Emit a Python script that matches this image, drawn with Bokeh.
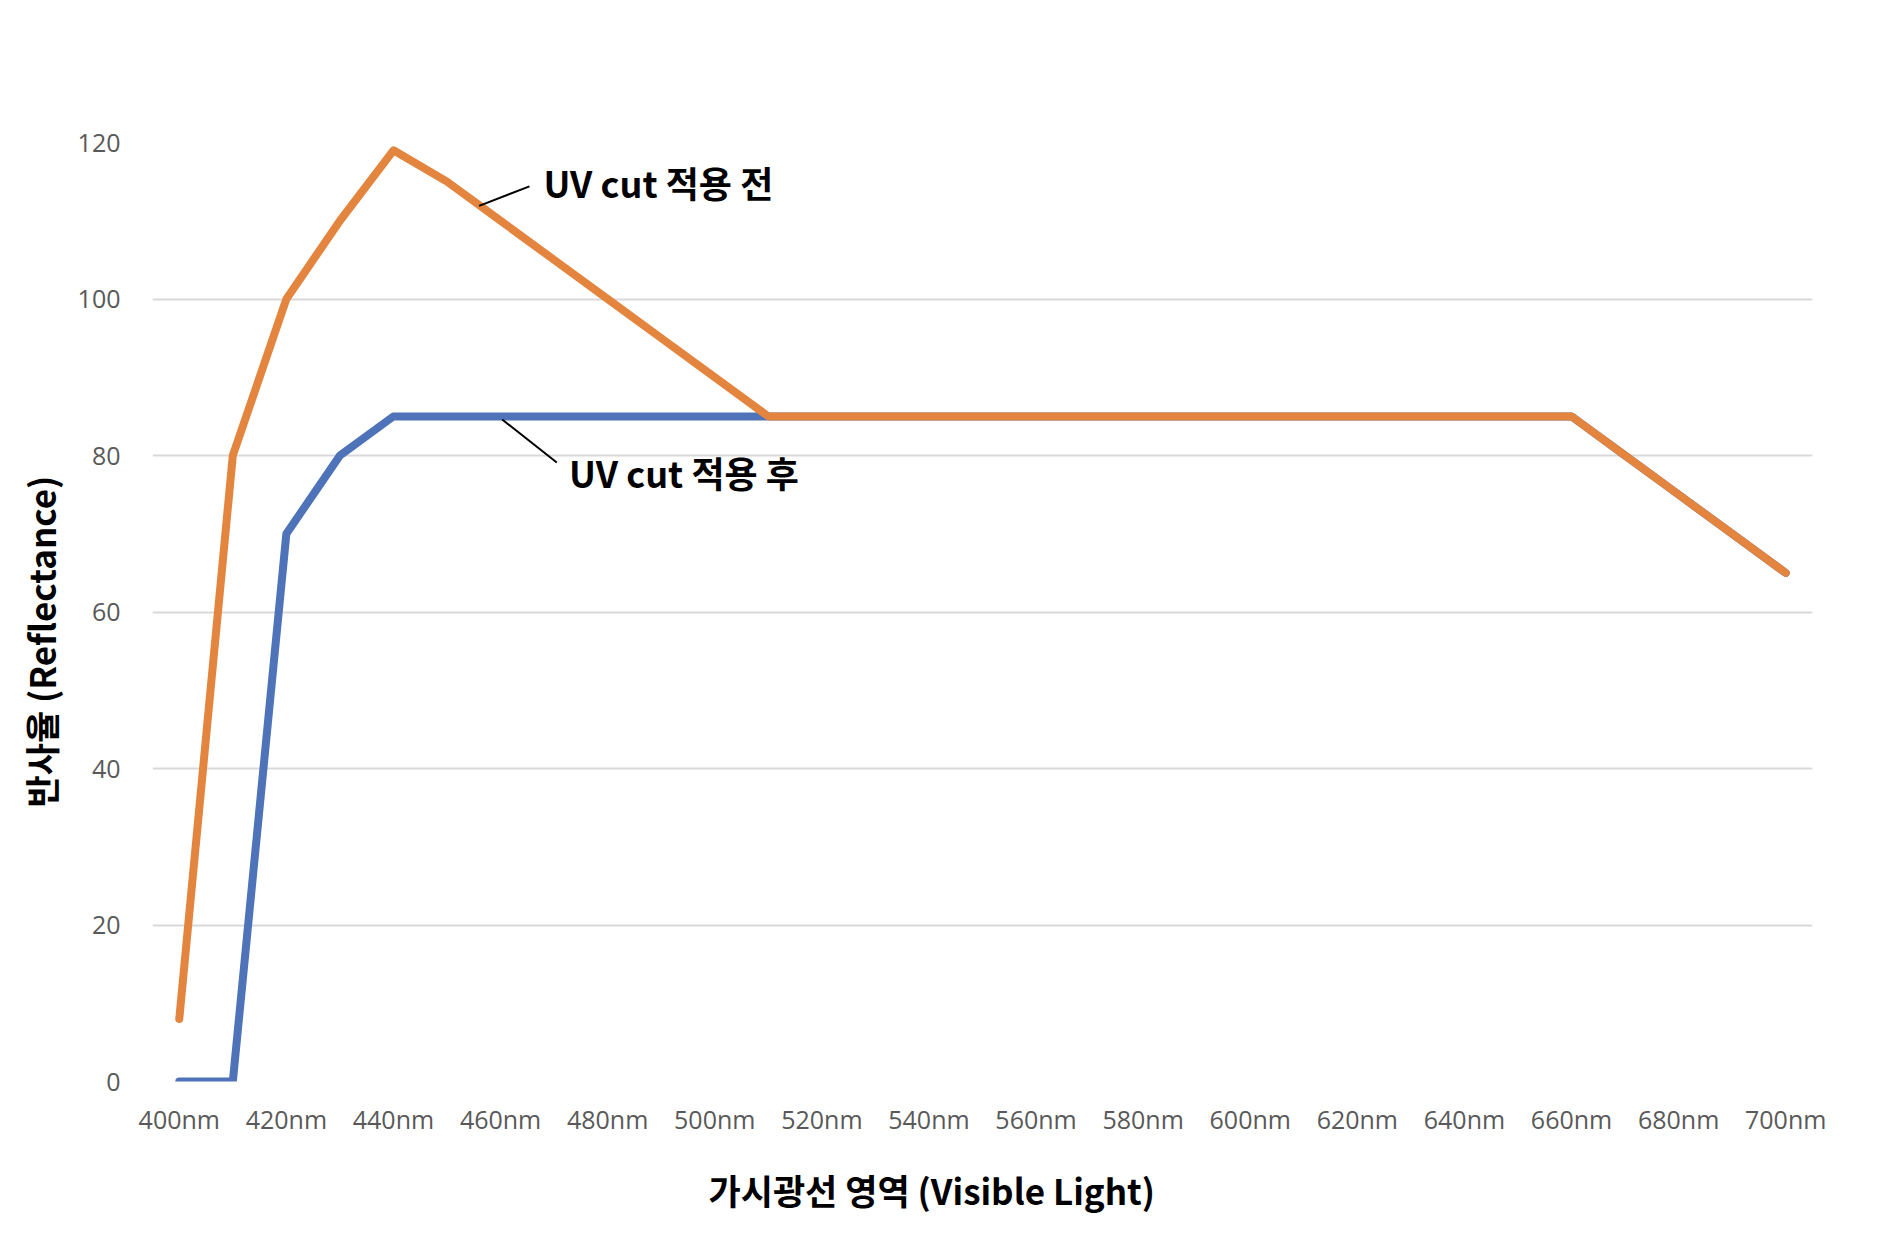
from bokeh.plotting import figure
from bokeh.models import FixedTicker, Label, Range1d, ColumnDataSource, Title
from bokeh.embed import file_html
from bokeh.resources import INLINE

# ---- data ----
wavelengths = [400, 410, 420, 430, 440, 450, 460, 470, 480, 490, 500,
               510, 520, 530, 540, 550, 560, 570, 580, 590, 600,
               610, 620, 630, 640, 650, 660, 670, 680, 690, 700]
before_uv_cut = [8, 80, 100, 110, 119, 115, 110, 105, 100, 95, 90,
                 85, 85, 85, 85, 85, 85, 85, 85, 85, 85,
                 85, 85, 85, 85, 85, 85, 80, 75, 70, 65]
after_uv_cut = [0, 0, 70, 80, 85, 85, 85, 85, 85, 85, 85,
                85, 85, 85, 85, 85, 85, 85, 85, 85, 85,
                85, 85, 85, 85, 85, 85, 80, 75, 70, 65]
tick_positions = [400, 420, 440, 460, 480, 500, 520, 540, 560, 580,
                  600, 620, 640, 660, 680, 700]
tick_labels = ["400nm", "420nm", "440nm", "460nm", "480nm", "500nm",
               "520nm", "540nm", "560nm", "580nm", "600nm", "620nm",
               "640nm", "660nm", "680nm", "700nm"]
y_ticks = [0, 20, 40, 60, 80, 100, 120]

series_before_name = "UV cut 적용 전"
series_after_name = "UV cut 적용 후"
x_title = "가시광선 영역 (Visible Light)"
y_title = "반사율 (Reflectance)"

# annotation anchors (data units)
before_leader = dict(x0=456.0, y0=111.9, x1=465.4, y1=114.4)
after_leader = dict(x0=460.3, y0=84.6, x1=470.5, y1=79.1)
before_label_pos = (468.0, 114.9)
after_label_pos = (472.8, 77.9)

ORANGE = "#E3843F"
BLUE = "#4E73B9"
TICK_COLOR = "#595959"
GRID_COLOR = "#D9D9D9"
TICK_FONT = "Open Sans"
TITLE_FONT = "Noto Sans CJK KR"

W, H = 1862, 1238
p = figure(width=W, height=H, output_backend="svg", toolbar_location=None,
           x_range=Range1d(395, 705), y_range=Range1d(0, 120),
           min_border_left=152, min_border_right=W - 1812,
           min_border_top=142, min_border_bottom=H - 1084)
p.outline_line_color = None
p.background_fill_color = "white"
p.border_fill_color = "white"

# axes
p.xaxis.ticker = FixedTicker(ticks=tick_positions)
p.xaxis.major_label_overrides = {t: l for t, l in zip(tick_positions, tick_labels)}
p.yaxis.ticker = FixedTicker(ticks=y_ticks)
for ax in (p.xaxis, p.yaxis):
    ax.axis_line_color = None
    ax.major_tick_line_color = None
    ax.minor_tick_line_color = None
    ax.major_tick_out = 0
    ax.major_tick_in = 0
    ax.major_label_text_font = TICK_FONT
    ax.major_label_text_font_size = "25px"
    ax.major_label_text_color = TICK_COLOR
p.xaxis.major_label_standoff = 20
p.yaxis.major_label_standoff = 32

p.xgrid.grid_line_color = None
p.ygrid.ticker = FixedTicker(ticks=y_ticks)
p.ygrid.grid_line_color = GRID_COLOR
p.ygrid.grid_line_width = 2

src = ColumnDataSource(dict(x=wavelengths, before=before_uv_cut, after=after_uv_cut))
p.line("x", "after", source=src, line_color=BLUE, line_width=8,
       line_cap="round", line_join="round")
p.line("x", "before", source=src, line_color=ORANGE, line_width=8,
       line_cap="round", line_join="round")

# leader lines
p.segment(x0=[before_leader["x0"], after_leader["x0"]],
          y0=[before_leader["y0"], after_leader["y0"]],
          x1=[before_leader["x1"], after_leader["x1"]],
          y1=[before_leader["y1"], after_leader["y1"]],
          line_color="black", line_width=2)

# series labels
for (lx, ly), txt in ((before_label_pos, series_before_name), (after_label_pos, series_after_name)):
    p.add_layout(Label(x=lx, y=ly, text=txt, text_font=TITLE_FONT,
                       text_font_size="36px", text_font_style="bold",
                       text_color="black", text_align="left", text_baseline="middle"))

# axis titles
p.add_layout(Title(text=x_title, align="left", offset=556, standoff=47,
                   text_font=TITLE_FONT, text_font_size="35px", text_font_style="bold",
                   text_line_height=0.85, text_color="black"), "below")
p.add_layout(Title(text=y_title, align="left", offset=274, standoff=18,
                   text_font=TITLE_FONT, text_font_size="35px", text_font_style="bold",
                   text_color="black"), "left")

open("out.html", "w").write(file_html(p, INLINE))
